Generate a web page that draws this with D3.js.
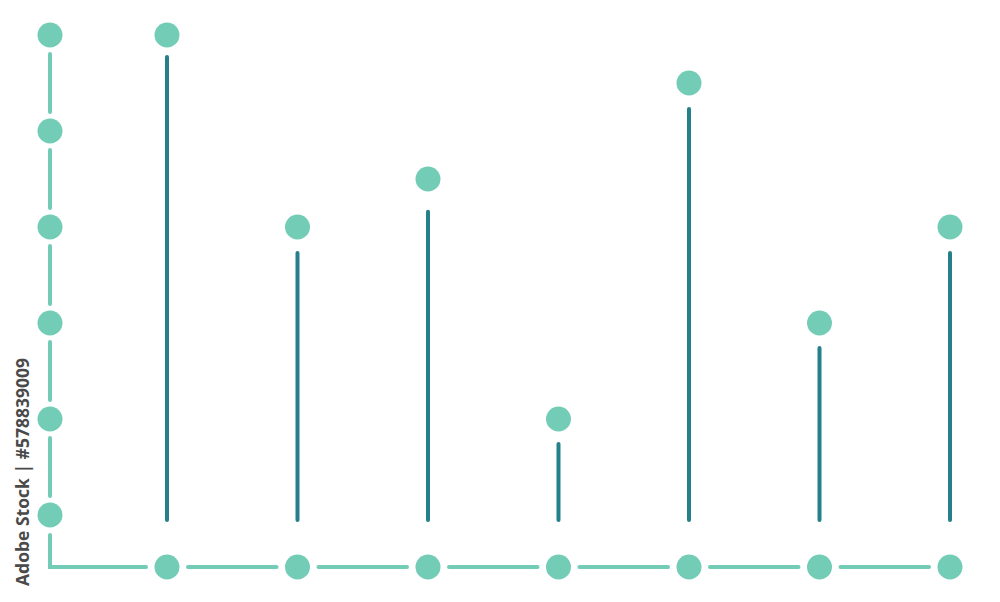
<!DOCTYPE html>
<html><head><meta charset="utf-8">
<script src="https://cdn.jsdelivr.net/npm/d3@7"></script>
<style>html,body{margin:0;padding:0;background:#fff;}svg{display:block;}</style>
</head><body>
<svg id="chart" width="1000" height="602"></svg>
<script>
const categories = ["A","B","C","D","E","F","G"];
const values = [5, 3, 3.5, 1, 4.5, 2, 3];
const stemTops = [4.77, 2.73, 3.16, 0.74, 4.23, 1.74, 2.73];
const yTicks = [0, 1, 2, 3, 4, 5];
const watermark = "Adobe Stock | #578839009";

const light = "#73ccb6", dark = "#26808a";
const svg = d3.select("#chart");
const x = d3.scalePoint().domain(categories).range([167, 950]);
const y = d3.scaleLinear().domain([0, 5]).range([515, 35]);
const axisX = 50, axisY = 567, r = 12.5, gap = 19, gapX = 21;

// y axis dashed segments between tick circles
const segs = d3.pairs(yTicks);
svg.selectAll("line.yseg").data(segs).join("line")
  .attr("x1", axisX).attr("x2", axisX)
  .attr("y1", d => y(d[1]) + gap).attr("y2", d => y(d[0]) - gap)
  .attr("stroke", light).attr("stroke-width", 4).attr("stroke-linecap", "round");

// corner segment
svg.append("path")
  .attr("d", `M${axisX},${y(0) + gap + 1}L${axisX},${axisY}L${x(categories[0]) - gapX},${axisY}`)
  .attr("fill", "none").attr("stroke", light).attr("stroke-width", 4)
  .attr("stroke-linecap", "round").attr("stroke-linejoin", "miter");

// x axis segments
svg.selectAll("line.xseg").data(d3.pairs(categories)).join("line")
  .attr("x1", d => x(d[0]) + gapX).attr("x2", d => x(d[1]) - gapX)
  .attr("y1", axisY).attr("y2", axisY)
  .attr("stroke", light).attr("stroke-width", 4).attr("stroke-linecap", "round");

// y tick circles
svg.selectAll("circle.ytick").data(yTicks).join("circle")
  .attr("cx", axisX).attr("cy", d => y(d)).attr("r", r).attr("fill", light);

// x tick circles
svg.selectAll("circle.xtick").data(categories).join("circle")
  .attr("cx", d => x(d)).attr("cy", axisY).attr("r", r).attr("fill", light);

// stems
svg.selectAll("line.stem").data(stemTops).join("line")
  .attr("x1", (d, i) => x(categories[i])).attr("x2", (d, i) => x(categories[i]))
  .attr("y1", d => y(d)).attr("y2", y(0) + 5)
  .attr("stroke", dark).attr("stroke-width", 4).attr("stroke-linecap", "round");

// heads
svg.selectAll("circle.head").data(values).join("circle")
  .attr("cx", (d, i) => x(categories[i])).attr("cy", d => y(d)).attr("r", r).attr("fill", light);

// watermark text
svg.append("text")
  .attr("transform", "translate(29,586) rotate(-90)")
  .attr("font-family", "Open Sans, DejaVu Sans, sans-serif")
  .attr("font-size", 17.5).attr("font-weight", 700).attr("fill", "#4a4a4a")
  .text(watermark);
</script>
</body></html>
